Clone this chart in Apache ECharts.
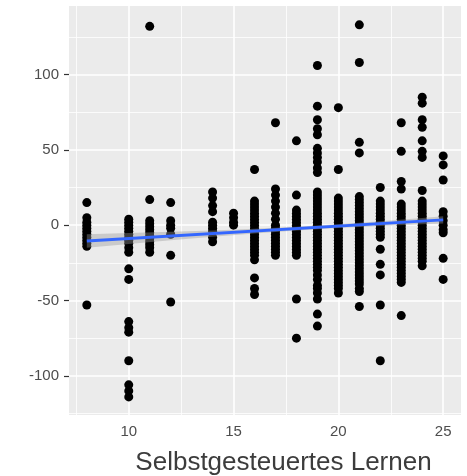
<!DOCTYPE html>
<html>
<head>
<meta charset="utf-8">
<script src="https://cdn.jsdelivr.net/npm/echarts@6/dist/echarts.min.js"></script>
<style>
html,body{margin:0;padding:0;background:#fff;}
#chart{width:467px;height:476px;}
</style>
</head>
<body>
<div id="chart"></div>
<script>
// ---- data ----
const xTicks = [10, 15, 20, 25];
const yTicks = [-100, -50, 0, 50, 100];
const xMinor = [7.5, 12.5, 17.5, 22.5];
const yMinor = [-125, -75, -25, 25, 75, 125];
const xLabel = 'Selbstgesteuertes Lernen';

const y08 = [15, 5, 2, 0, -2, -4, -6, -8, -10, -12, -14, -53];
const y10 = [4, 2, 0, -2, -4, -6, -8, -10, -12, -15, -18, -29, -36, -64, -68, -71, -90, -106, -110, -114];
const y11 = [132, 17, 3, 1, -1, -3, -5, -7, -9, -11, -13, -15, -18];
const y12 = [15, 3, 0, -2, -6, -20, -51];
const y14 = [22, 18, 13, 9, 2, 0, -2, -4, -8, -11];
const y15 = [8, 5, 2, 0];
const y16 = [37, 16, 14, 12, 10, 8, 6, 4, 2, 0, -2, -4, -6, -8, -10, -12, -14, -16, -18, -20, -23, -35, -42, -46];
const y17 = [68, 24, 20, 16, 12, 8, 4, 0, -2, -4, -6, -8, -10, -12, -14, -16, -18, -20];
const y18 = [56, 20, 10, 8, 6, 4, 2, 0, -2, -4, -6, -8, -10, -12, -14, -16, -18, -20, -49, -75];
const y19 = [106, 79, 70, 64, 60, 51, 48, 45, 42, 38, 35, 22, 20, 18, 16, 14, 12, 10, 8, 6, 4, 2, 0, -2, -4, -6, -8, -10, -12, -14, -16, -18, -20, -22, -24, -26, -28, -30, -33, -36, -40, -42, -45, -49, -59, -67];
const y20 = [78, 37, 18, 16, 14, 12, 10, 8, 6, 4, 2, 0, -2, -4, -6, -8, -10, -12, -14, -16, -18, -20, -22, -24, -26, -28, -30, -32, -34, -36, -38, -40, -42, -45];
const y21 = [133, 108, 55, 48, 19, 17, 15, 13, 11, 9, 7, 5, 3, 1, -1, -3, -5, -7, -9, -11, -13, -15, -17, -19, -21, -23, -25, -27, -29, -31, -33, -35, -37, -39, -42, -44, -54];
const y22 = [25, 16, 14, 12, 10, 8, 6, 4, 2, 0, -2, -4, -6, -8, -16, -26, -33, -53, -90];
const y23 = [68, 49, 29, 24, 14, 12, 10, 8, 6, 4, 2, 0, -2, -4, -6, -8, -10, -12, -14, -16, -18, -20, -22, -24, -26, -28, -30, -32, -34, -36, -38, -60];
const y24 = [85, 81, 70, 65, 56, 49, 45, 23, 16, 14, 12, 10, 8, 6, 4, 2, 0, -2, -4, -6, -8, -10, -12, -14, -16, -18, -20, -22, -24, -27];
const y25 = [46, 40, 30, 9, 6, 3, 0, -3, -5, -22, -36];

const columns = [[8, y08], [10, y10], [11, y11], [12, y12], [14, y14], [15, y15], [16, y16], [17, y17], [18, y18], [19, y19], [20, y20], [21, y21], [22, y22], [23, y23], [24, y24], [25, y25]];

// fitted line and its confidence band
const fitX = [8, 25];
const fitY = [-10.5, 3.5];
const bandX = [8, 10, 12, 14, 16, 18, 20, 22, 24, 25];
const bandLo = [-15.0, -12.45, -10.0, -7.66, -5.51, -3.56, -1.92, -0.57, 0.58, 1.1];
const bandHi = [-6.0, -5.25, -4.4, -3.46, -2.31, -0.96, 0.68, 2.63, 4.78, 5.9];

// ---- build ----
const points = [];
columns.forEach(function (c) { c[1].forEach(function (v) { points.push([c[0], v]); }); });

const chart = echarts.init(document.getElementById('chart'), null, {renderer: 'canvas'});
const gridMajor = { color: '#FFFFFF', width: 1.6, type: 'solid' };
const gridMinor = { color: '#FFFFFF', width: 0.8, type: 'solid' };
const mkLines = [];
xTicks.forEach(function (v) { mkLines.push({ xAxis: v, lineStyle: gridMajor }); });
xMinor.forEach(function (v) { mkLines.push({ xAxis: v, lineStyle: gridMinor }); });
yTicks.forEach(function (v) { mkLines.push({ yAxis: v, lineStyle: gridMajor }); });
yMinor.forEach(function (v) { mkLines.push({ yAxis: v, lineStyle: gridMinor }); });

const font = '"Liberation Sans", Arial, Helvetica, sans-serif';

chart.setOption({
  animation: false,
  backgroundColor: '#FFFFFF',
  grid: { left: 69, top: 6, width: 392, height: 409, show: true, backgroundColor: '#EBEBEB', borderWidth: 0 },
  xAxis: {
    type: 'value', min: 7.15, max: 25.85,
    axisLine: { show: false },
    splitLine: { show: false },
    axisTick: { show: true, length: 5, customValues: xTicks, lineStyle: { color: '#333333', width: 1.2 } },
    axisLabel: { customValues: xTicks, color: '#4D4D4D', fontSize: 15, fontFamily: font, margin: 9 }
  },
  yAxis: {
    type: 'value', min: -126, max: 145.5,
    axisLine: { show: false },
    splitLine: { show: false },
    axisTick: { show: true, length: 5, customValues: yTicks, lineStyle: { color: '#333333', width: 1.2 } },
    axisLabel: { customValues: yTicks, color: '#4D4D4D', fontSize: 15, fontFamily: font, margin: 10 }
  },
  graphic: [{
    type: 'text',
    style: { text: xLabel, x: 283.5, y: 463, align: 'center', verticalAlign: 'middle', fill: '#3C3C3C', font: '26px ' + font }
  }],
  series: [
    {
      type: 'line', data: [], silent: true, z: 1,
      markLine: { silent: true, z: 1, symbol: 'none', label: { show: false }, animation: false, lineStyle: { type: 'solid' }, data: mkLines }
    },
    {
      type: 'scatter', data: points, symbol: 'circle', symbolSize: 9,
      itemStyle: { color: '#000000', opacity: 1 }, z: 3
    },
    {
      type: 'custom', z: 4, silent: true,
      data: bandX.map(function (x, i) { return [x, bandLo[i], bandHi[i]]; }),
      renderItem: function (params, api) {
        if (params.dataIndex !== 0) return null;
        const pts = [];
        for (let i = 0; i < bandX.length; i++) pts.push(api.coord([bandX[i], bandHi[i]]));
        for (let i = bandX.length - 1; i >= 0; i--) pts.push(api.coord([bandX[i], bandLo[i]]));
        return { type: 'polygon', shape: { points: pts }, style: { fill: 'rgba(153,153,153,0.4)' } };
      },
      encode: { x: 0, y: [1, 2] }
    },
    {
      type: 'line', data: fitX.map(function (x, i) { return [x, fitY[i]]; }),
      symbol: 'none', lineStyle: { color: '#3366FF', width: 2.8 }, z: 5
    }
  ]
});
</script>
</body>
</html>
